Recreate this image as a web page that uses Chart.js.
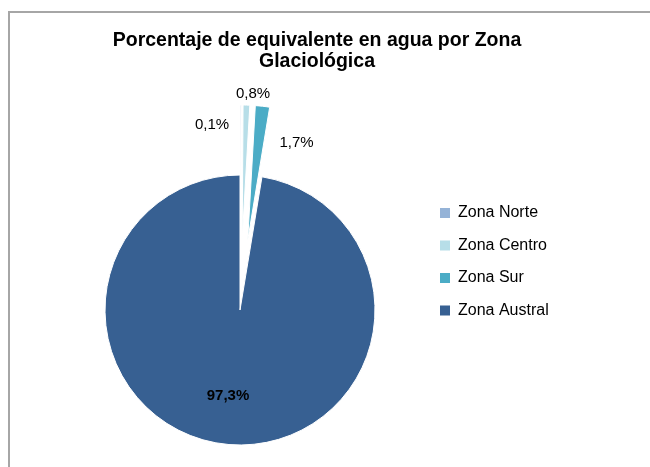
<!DOCTYPE html>
<html>
<head>
<meta charset="utf-8">
<script src="https://cdn.jsdelivr.net/npm/chart.js@4.4.1/dist/chart.umd.min.js"></script>
<style>
  html, body { margin: 0; padding: 0; background: #fff; }
  #wrap { position: relative; width: 650px; height: 467px; overflow: hidden; }
  #frame { position: absolute; left: 8px; top: 11px; right: -4px; bottom: -4px; border-left: 2px solid #a6a6a6; border-top: 2px solid #a6a6a6; }
  canvas { position: absolute; left: 0; top: 0; }
</style>
</head>
<body>
<div id="wrap">
  <div id="frame"></div>
  <canvas id="zonasPieChart" width="650" height="467"></canvas>
</div>
<script>
const zonas = ['Zona Norte', 'Zona Centro', 'Zona Sur', 'Zona Austral'];
const porcentajes = [0.1, 0.8, 1.7, 97.3];
const etiquetas = ['0,1%', '0,8%', '1,7%', '97,3%'];
const colores = ['#95B3D7', '#B7DEE8', '#4BACC6', '#376092'];

Chart.defaults.font.family = "'Liberation Sans', Arial, sans-serif";
Chart.defaults.color = '#000';

// porciones separadas del centro (como en Excel)
const explodePlugin = {
    id: 'explode',
    beforeDatasetsDraw(chart, args, opts) {
        const area = chart.chartArea;
        const cx = (area.left + area.right) / 2;
        const cy = (area.top + area.bottom) / 2;
        chart.getDatasetMeta(0).data.forEach((arc, i) => {
            const d = opts.distance[i] || 0;
            const mid = (arc.startAngle + arc.endAngle) / 2;
            arc.x = cx + Math.cos(mid) * d;
            arc.y = cy + Math.sin(mid) * d;
        });
    }
};

// etiquetas de porcentaje
const labelsPlugin = {
    id: 'sliceLabels',
    afterDatasetsDraw(chart, args, opts) {
        const ctx = chart.ctx;
        ctx.save();
        ctx.textAlign = 'center';
        ctx.textBaseline = 'middle';
        ctx.fillStyle = '#000';
        chart.getDatasetMeta(0).data.forEach((arc, i) => {
            const mid = (arc.startAngle + arc.endAngle) / 2;
            const r = arc.outerRadius * opts.radius[i];
            const x = arc.x + Math.cos(mid) * r + opts.nudge[i][0];
            const y = arc.y + Math.sin(mid) * r + opts.nudge[i][1];
            ctx.font = (opts.bold[i] ? 'bold ' : '') + '15px ' + Chart.defaults.font.family;
            ctx.fillText(etiquetas[i], x, y);
        });
        ctx.restore();
    }
};

const legendSize = 16;
const legendPad = 16.5;
const mctx = document.createElement('canvas').getContext('2d');
mctx.font = legendSize + 'px ' + Chart.defaults.font.family;
const maxText = Math.max(...zonas.map(z => mctx.measureText(z).width));
const legendWidth = legendPad + 10 + legendSize / 2 + maxText + 10;
const areaLeft = 56.5, areaRight = 423.5;
// espacio vacío a la derecha de la leyenda, para que el título quede centrado como en el original
const spacerWidth = Math.max(154 - legendWidth, 0);

const spacerPlugin = {
    id: 'rightSpacer',
    beforeInit(chart) {
        Chart.layouts.addBox(chart, {
            position: 'right',
            weight: 2000,
            fullSize: false,
            options: { display: false },
            width: 0,
            height: 0,
            update(maxWidth, maxHeight) {
                this.width = spacerWidth;
                this.height = maxHeight;
            },
            isHorizontal() { return false; },
            draw() {}
        });
    }
};

const baseLabels = Chart.overrides.doughnut.plugins.legend.labels.generateLabels;

const ctx = document.getElementById('zonasPieChart').getContext('2d');
const zonasPieChart = new Chart(ctx, {
    type: 'pie',
    data: {
        labels: zonas,
        datasets: [{
            data: porcentajes,
            backgroundColor: colores,
            borderColor: '#ffffff',
            borderWidth: 1,
            clip: false
        }]
    },
    options: {
        responsive: false,
        animation: false,
        events: [],
        radius: 135,
        layout: {
            padding: { left: areaLeft, right: 650 - areaRight - legendWidth - spacerWidth, top: 0, bottom: 35.5 }
        },
        plugins: {
            title: {
                display: true,
                text: ['Porcentaje de equivalente en agua por Zona', 'Glaciológica'],
                color: '#000',
                font: { size: 19.5, weight: 'bold', lineHeight: '21px' },
                padding: { top: 30.5, bottom: 116 }
            },
            legend: {
                position: 'right',
                align: 'start',
                fullSize: false,
                labels: {
                    boxWidth: 10,
                    boxHeight: 10,
                    padding: legendPad,
                    color: '#000',
                    font: { size: legendSize },
                    generateLabels: (chart) => baseLabels(chart).map(l => ({ ...l, lineWidth: 0 }))
                }
            },
            tooltip: { enabled: false },
            explode: { distance: [70, 70, 70, 0] },
            sliceLabels: {
                radius: [1, 1, 1, 0.65],
                nudge: [[-28.6, 20], [6.6, -11.5], [34, 37], [-4.8, -1.7]],
                bold: [false, false, false, true]
            }
        }
    },
    plugins: [spacerPlugin, explodePlugin, labelsPlugin]
});
</script>
</body>
</html>
